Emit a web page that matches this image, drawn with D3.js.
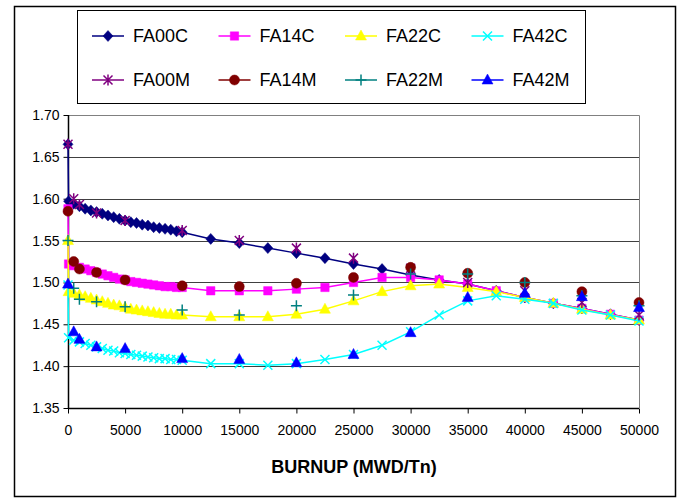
<!DOCTYPE html>
<html>
<head>
<meta charset="utf-8">
<script src="https://cdn.jsdelivr.net/npm/d3@7"></script>
<style>
  body { margin: 0; background: #fff; }
  text { font-family: "Liberation Sans", Arial, sans-serif; }
</style>
</head>
<body>
<svg id="chart" width="680" height="502"></svg>
<script>
// burnup points (MWD/Tn)
const xC = [0, 50, 500, 1000, 1500, 2000, 2500, 3000, 3500, 4000, 4500, 5000, 5500, 6000, 6500, 7000,
  7500, 8000, 8500, 9000, 9500, 10000, 12500, 15000, 17500, 20000, 22500, 25000, 27500, 30000,
  32500, 35000, 37500, 40000, 42500, 45000, 47500, 50000];
const xM = [0, 500, 1000, 2500, 5000, 10000, 15000, 20000, 25000, 30000, 35000, 40000, 45000, 50000];

const fa00c = [1.665, 1.597, 1.594, 1.591, 1.588, 1.586, 1.584, 1.582, 1.580, 1.578, 1.576, 1.574, 1.572, 1.571,
  1.569, 1.568, 1.566, 1.565, 1.564, 1.563, 1.561, 1.560, 1.552, 1.547, 1.541, 1.535, 1.529, 1.522,
  1.516, 1.509, 1.503, 1.498, 1.490, 1.482, 1.475, 1.469, 1.462, 1.455];
const fa14c = [1.588, 1.522, 1.520, 1.518, 1.516, 1.514, 1.512, 1.510, 1.508, 1.506, 1.504, 1.503, 1.501, 1.500,
  1.499, 1.498, 1.497, 1.496, 1.495, 1.495, 1.494, 1.494, 1.490, 1.490, 1.490, 1.492, 1.494, 1.500,
  1.506, 1.506, 1.503, 1.498, 1.490, 1.482, 1.475, 1.469, 1.462, 1.455];
const fa22c = [1.550, 1.489, 1.487, 1.485, 1.483, 1.481, 1.479, 1.477, 1.475, 1.473, 1.472, 1.470, 1.468, 1.467,
  1.466, 1.465, 1.464, 1.463, 1.462, 1.462, 1.461, 1.461, 1.459, 1.459, 1.459, 1.462, 1.468, 1.478,
  1.489, 1.496, 1.498, 1.494, 1.489, 1.482, 1.475, 1.468, 1.461, 1.455];
const fa42c = [1.497, 1.434, 1.431, 1.429, 1.427, 1.425, 1.423, 1.421, 1.419, 1.418, 1.416, 1.415, 1.414, 1.413,
  1.412, 1.411, 1.410, 1.409, 1.409, 1.408, 1.408, 1.407, 1.403, 1.403, 1.401, 1.403, 1.408, 1.414,
  1.425, 1.441, 1.461, 1.478, 1.484, 1.480, 1.475, 1.467, 1.461, 1.454];

const fa00m = [1.665, 1.600, 1.593, 1.583, 1.574, 1.562, 1.550, 1.541, 1.529, 1.517, 1.500, 1.490, 1.476, 1.461];
const fa14m = [1.585, 1.525, 1.516, 1.512, 1.503, 1.496, 1.495, 1.499, 1.506, 1.518, 1.511, 1.500, 1.489, 1.476];
const fa22m = [1.550, 1.493, 1.480, 1.477, 1.471, 1.467, 1.461, 1.472, 1.485, 1.510, 1.510, 1.500, 1.484, 1.472];
const fa42m = [1.498, 1.441, 1.432, 1.423, 1.421, 1.409, 1.408, 1.404, 1.414, 1.440, 1.482, 1.487, 1.483, 1.470];

const yTicks = [1.35, 1.40, 1.45, 1.50, 1.55, 1.60, 1.65, 1.70];
const xTicks = [0, 5000, 10000, 15000, 20000, 25000, 30000, 35000, 40000, 45000, 50000];

const series = [
  { name: "FA00C", x: xC, y: fa00c, color: "#000080", shape: "diamond", line: true },
  { name: "FA14C", x: xC, y: fa14c, color: "#ff00ff", shape: "square", line: true },
  { name: "FA22C", x: xC, y: fa22c, color: "#ffff00", shape: "triangle", line: true },
  { name: "FA42C", x: xC, y: fa42c, color: "#00ffff", shape: "x", line: true },
  { name: "FA00M", x: xM, y: fa00m, color: "#800080", shape: "star", line: false },
  { name: "FA14M", x: xM, y: fa14m, color: "#800000", shape: "circle", line: false },
  { name: "FA22M", x: xM, y: fa22m, color: "#008080", shape: "plus", line: false },
  { name: "FA42M", x: xM, y: fa42m, color: "#0000ff", shape: "triangle", line: false }
];

const svg = d3.select("#chart");
const pLeft = 68, pRight = 639, pTop = 115, pBottom = 408;

const x = d3.scaleLinear().domain([0, 50000]).range([pLeft, pRight]);
const y = d3.scaleLinear().domain([1.35, 1.70]).range([pBottom, pTop]);

// outer frame
svg.append("rect")
  .attr("x", 14.5).attr("y", 6.5).attr("width", 661).attr("height", 490)
  .attr("fill", "#fff").attr("stroke", "#000").attr("stroke-width", 1.5);

// gridlines
svg.append("g")
  .selectAll("line")
  .data(yTicks.slice(1, -1))
  .enter()
  .append("line")
  .attr("x1", pLeft).attr("x2", pRight)
  .attr("y1", (d) => Math.round(y(d)) + 0.5)
  .attr("y2", (d) => Math.round(y(d)) + 0.5)
  .attr("stroke", "#404040");

// plot border top / right
svg.append("path")
  .attr("d", `M${pLeft},${pTop + 0.5}H${pRight + 0.5}V${pBottom}`)
  .attr("fill", "none").attr("stroke", "#808080");

const xAxis = svg.append("g")
  .attr("transform", `translate(0,${pBottom + 0.5})`)
  .call(d3.axisBottom(x).tickValues(xTicks).tickSize(5).tickPadding(12).tickFormat(d3.format("d")));
const yAxis = svg.append("g")
  .attr("transform", `translate(${pLeft + 0.5},0)`)
  .call(d3.axisLeft(y).tickValues(yTicks).tickSize(5).tickPadding(4).tickFormat(d3.format(".2f")));

[xAxis, yAxis].forEach((a) => {
  a.select(".domain").attr("stroke", "#000").attr("stroke-width", 1.5);
  a.selectAll(".tick line").attr("stroke", "#000");
  a.selectAll("text").attr("fill", "#000").style("font-size", "14px")
    .style("font-family", "'Liberation Sans', Arial, sans-serif");
});
xAxis.select(".domain").attr("d", `M${pLeft},0H${pRight}`);
yAxis.select(".domain").attr("d", `M0,${pTop}V${pBottom}`);

// x axis title
svg.append("text")
  .attr("x", 354).attr("y", 473)
  .attr("text-anchor", "middle")
  .style("font-size", "18px").style("font-weight", "bold")
  .text("BURNUP (MWD/Tn)");

function markerPath(shape) {
  switch (shape) {
    case "diamond": return "M0,-5.5L5,0L0,5.5L-5,0Z";
    case "square": return "M-4.2,-4.2H4.2V4.2H-4.2Z";
    case "triangle": return "M0,-6L5.5,4H-5.5Z";
    case "circle": return "M5,0A5,5 0 1,1 -5,0A5,5 0 1,1 5,0Z";
    case "x": return "M-4.5,-4.5L4.5,4.5M-4.5,4.5L4.5,-4.5";
    case "star": return "M-4.5,-4.5L4.5,4.5M-4.5,4.5L4.5,-4.5M0,-5.5V5.5";
    case "plus": return "M-5.5,0H5.5M0,-5.5V5.5";
  }
}
const stroked = (s) => s === "x" || s === "star" || s === "plus";

const line = d3.line().x((d) => x(d[0])).y((d) => y(d[1]));

series.forEach((s) => {
  const pts = s.x.map((v, i) => [v, s.y[i]]);
  const g = svg.append("g").attr("class", "series");
  if (s.line) {
    g.append("path")
      .datum(pts)
      .attr("d", line)
      .attr("fill", "none")
      .attr("stroke", s.color)
      .attr("stroke-width", 1.5);
  }
  g.selectAll("path.mk")
    .data(pts)
    .enter()
    .append("path")
    .attr("class", "mk")
    .attr("transform", (d) => `translate(${x(d[0])},${y(d[1])})`)
    .attr("d", markerPath(s.shape))
    .attr("fill", stroked(s.shape) ? "none" : s.color)
    .attr("stroke", s.color)
    .attr("stroke-width", stroked(s.shape) ? 1.5 : 0.5);
});

// legend
svg.append("rect")
  .attr("x", 77.5).attr("y", 10.5).attr("width", 508).attr("height", 93)
  .attr("fill", "#fff").attr("stroke", "#000");

const leg = svg.append("g")
  .selectAll("g")
  .data(series)
  .enter()
  .append("g")
  .attr("transform", (d, i) => `translate(${92 + 126.5 * (i % 4)},${i < 4 ? 36 : 80})`);

leg.append("line")
  .attr("x1", 0).attr("x2", 32)
  .attr("stroke", (d) => d.color).attr("stroke-width", 1.5);
leg.append("path")
  .attr("transform", "translate(16,0)")
  .attr("d", (d) => markerPath(d.shape))
  .attr("fill", (d) => (stroked(d.shape) ? "none" : d.color))
  .attr("stroke", (d) => d.color)
  .attr("stroke-width", (d) => (stroked(d.shape) ? 1.5 : 0.5));
leg.append("text")
  .attr("x", 41).attr("dy", "0.36em")
  .style("font-size", "18px")
  .text((d) => d.name);
</script>
</body>
</html>
